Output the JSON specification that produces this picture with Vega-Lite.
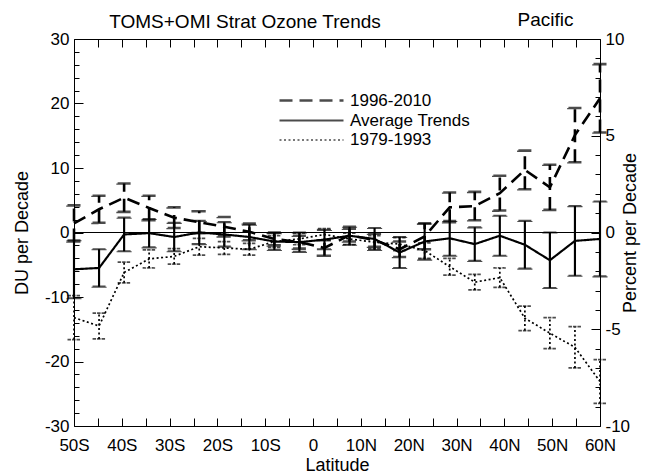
{
  "$schema": "https://vega.github.io/schema/vega-lite/v6.json",
  "width": 526,
  "height": 387,
  "autosize": {"type": "none"},
  "padding": {"left": 74, "top": 39, "right": 50, "bottom": 49},
  "background": "white",
  "config": {
    "font": "Liberation Sans",
    "view": {"stroke": null},
    "axis": {
      "domainColor": "black", "domainWidth": 1, "tickColor": "black", "tickWidth": 1,
      "labelColor": "black", "titleColor": "black", "labelFontSize": 17, "titleFontSize": 18,
      "titleFontWeight": "normal", "grid": false, "labelFont": "Liberation Sans", "titleFont": "Liberation Sans",
      "labelOverlap": false
    },
    "legend": {"symbolStrokeColor": "black", "labelColor": "black", "labelFontSize": 17, "labelFont": "Liberation Sans", "padding": 0}
  },
  "title": {"text": "TOMS+OMI Strat Ozone Trends", "anchor": "middle", "frame": "group", "dx": -92, "offset": -21, "dy": 16, "baseline": "alphabetic", "fontSize": 19, "fontWeight": "normal", "color": "black", "font": "Liberation Sans"},
  "datasets": {
    "trend": [
      {"lat": -50, "s": "1996-2010", "v": 1.4, "lo": -1.4, "hi": 4.2},
      {"lat": -44.76, "s": "1996-2010", "v": 3.6, "lo": 1.5, "hi": 5.7},
      {"lat": -39.52, "s": "1996-2010", "v": 5.4, "lo": 3.2, "hi": 7.6},
      {"lat": -34.29, "s": "1996-2010", "v": 3.8, "lo": 1.9, "hi": 5.7},
      {"lat": -29.05, "s": "1996-2010", "v": 2.3, "lo": 0.7, "hi": 3.9},
      {"lat": -23.81, "s": "1996-2010", "v": 1.6, "lo": -0.1, "hi": 3.3},
      {"lat": -18.57, "s": "1996-2010", "v": 0.9, "lo": -0.6, "hi": 2.4},
      {"lat": -13.33, "s": "1996-2010", "v": 0.1, "lo": -1.2, "hi": 1.4},
      {"lat": -8.1, "s": "1996-2010", "v": -1.0, "lo": -2.0, "hi": 0.0},
      {"lat": -2.86, "s": "1996-2010", "v": -1.5, "lo": -2.5, "hi": -0.5},
      {"lat": 2.38, "s": "1996-2010", "v": -2.4, "lo": -3.6, "hi": -1.2},
      {"lat": 7.62, "s": "1996-2010", "v": -0.4, "lo": -1.4, "hi": 0.6},
      {"lat": 12.86, "s": "1996-2010", "v": -1.2, "lo": -2.2, "hi": -0.2},
      {"lat": 18.1, "s": "1996-2010", "v": -2.6, "lo": -3.8, "hi": -1.4},
      {"lat": 23.33, "s": "1996-2010", "v": -0.6, "lo": -2.6, "hi": 1.4},
      {"lat": 28.57, "s": "1996-2010", "v": 3.9, "lo": 1.6, "hi": 6.2},
      {"lat": 33.81, "s": "1996-2010", "v": 4.1, "lo": 1.9, "hi": 6.3},
      {"lat": 39.05, "s": "1996-2010", "v": 6.1, "lo": 3.4, "hi": 8.8},
      {"lat": 44.29, "s": "1996-2010", "v": 9.7, "lo": 6.7, "hi": 12.7},
      {"lat": 49.52, "s": "1996-2010", "v": 7.0, "lo": 3.5, "hi": 10.5},
      {"lat": 54.76, "s": "1996-2010", "v": 15.1, "lo": 10.9, "hi": 19.3},
      {"lat": 60, "s": "1996-2010", "v": 20.8, "lo": 15.5, "hi": 26.1},
      {"lat": -50, "s": "Average Trends", "v": -5.7, "lo": -10.2, "hi": -1.2},
      {"lat": -44.76, "s": "Average Trends", "v": -5.5, "lo": -8.4, "hi": -2.6},
      {"lat": -39.52, "s": "Average Trends", "v": -0.3, "lo": -2.9, "hi": 2.3},
      {"lat": -34.29, "s": "Average Trends", "v": -0.1, "lo": -2.3, "hi": 2.1},
      {"lat": -29.05, "s": "Average Trends", "v": -0.7, "lo": -2.9, "hi": 1.5},
      {"lat": -23.81, "s": "Average Trends", "v": 0.0, "lo": -1.8, "hi": 1.8},
      {"lat": -18.57, "s": "Average Trends", "v": -0.3, "lo": -2.2, "hi": 1.6},
      {"lat": -13.33, "s": "Average Trends", "v": -0.7, "lo": -2.6, "hi": 1.2},
      {"lat": -8.1, "s": "Average Trends", "v": -1.4, "lo": -2.7, "hi": -0.1},
      {"lat": -2.86, "s": "Average Trends", "v": -1.5, "lo": -3.0, "hi": 0.0},
      {"lat": 2.38, "s": "Average Trends", "v": -1.1, "lo": -2.6, "hi": 0.4},
      {"lat": 7.62, "s": "Average Trends", "v": -0.5, "lo": -1.9, "hi": 0.9},
      {"lat": 12.86, "s": "Average Trends", "v": -1.0, "lo": -2.7, "hi": 0.7},
      {"lat": 18.1, "s": "Average Trends", "v": -3.1, "lo": -5.5, "hi": -0.7},
      {"lat": 23.33, "s": "Average Trends", "v": -1.4, "lo": -4.2, "hi": 1.4},
      {"lat": 28.57, "s": "Average Trends", "v": -0.9, "lo": -3.6, "hi": 1.8},
      {"lat": 33.81, "s": "Average Trends", "v": -1.8, "lo": -4.4, "hi": 0.8},
      {"lat": 39.05, "s": "Average Trends", "v": -0.5, "lo": -3.6, "hi": 2.6},
      {"lat": 44.29, "s": "Average Trends", "v": -1.9, "lo": -5.6, "hi": 1.8},
      {"lat": 49.52, "s": "Average Trends", "v": -4.3, "lo": -8.6, "hi": 0.0},
      {"lat": 54.76, "s": "Average Trends", "v": -1.3, "lo": -6.7, "hi": 4.1},
      {"lat": 60, "s": "Average Trends", "v": -1.0, "lo": -6.8, "hi": 4.8},
      {"lat": -50, "s": "1979-1993", "v": -13.2, "lo": -16.6, "hi": -9.8},
      {"lat": -44.76, "s": "1979-1993", "v": -14.5, "lo": -16.5, "hi": -12.5},
      {"lat": -39.52, "s": "1979-1993", "v": -6.2, "lo": -7.8, "hi": -4.6},
      {"lat": -34.29, "s": "1979-1993", "v": -4.1, "lo": -5.5, "hi": -2.7},
      {"lat": -29.05, "s": "1979-1993", "v": -3.7, "lo": -4.9, "hi": -2.5},
      {"lat": -23.81, "s": "1979-1993", "v": -2.2, "lo": -3.5, "hi": -0.9},
      {"lat": -18.57, "s": "1979-1993", "v": -2.4, "lo": -3.4, "hi": -1.4},
      {"lat": -13.33, "s": "1979-1993", "v": -2.6, "lo": -3.5, "hi": -1.7},
      {"lat": -8.1, "s": "1979-1993", "v": -1.4, "lo": -2.3, "hi": -0.5},
      {"lat": -2.86, "s": "1979-1993", "v": -1.0, "lo": -1.9, "hi": -0.1},
      {"lat": 2.38, "s": "1979-1993", "v": -0.3, "lo": -1.2, "hi": 0.6},
      {"lat": 7.62, "s": "1979-1993", "v": -1.0, "lo": -1.9, "hi": -0.1},
      {"lat": 12.86, "s": "1979-1993", "v": -1.5, "lo": -2.5, "hi": -0.5},
      {"lat": 18.1, "s": "1979-1993", "v": -1.8, "lo": -2.8, "hi": -0.8},
      {"lat": 23.33, "s": "1979-1993", "v": -2.8, "lo": -4.0, "hi": -1.6},
      {"lat": 28.57, "s": "1979-1993", "v": -5.3, "lo": -6.6, "hi": -4.0},
      {"lat": 33.81, "s": "1979-1993", "v": -7.7, "lo": -8.9, "hi": -6.5},
      {"lat": 39.05, "s": "1979-1993", "v": -7.0, "lo": -8.5, "hi": -5.5},
      {"lat": 44.29, "s": "1979-1993", "v": -13.3, "lo": -15.2, "hi": -11.4},
      {"lat": 49.52, "s": "1979-1993", "v": -15.6, "lo": -18.0, "hi": -13.2},
      {"lat": 54.76, "s": "1979-1993", "v": -17.8, "lo": -21.0, "hi": -14.6},
      {"lat": 60, "s": "1979-1993", "v": -23.1, "lo": -26.5, "hi": -19.7}
    ],
    "frame": [{"lat": -50, "pct": -10}, {"lat": 60, "pct": 10}],
    "minor": [{"du": -30}, {"du": 30}]
  },
  "layer": [
    {
      "data": {"name": "trend"},
      "encoding": {
        "x": {
          "field": "lat", "type": "quantitative",
          "scale": {"domain": [-50, 60], "nice": false, "zero": false},
          "axis": {
            "orient": "bottom", "title": "Latitude", "titlePadding": 3,
            "values": [-50, -45, -40, -35, -30, -25, -20, -15, -10, -5, 0, 5, 10, 15, 20, 25, 30, 35, 40, 45, 50, 55, 60],
            "labelExpr": "datum.value % 10 !== 0 ? '' : (datum.value === 0 ? '0' : (datum.value < 0 ? (-datum.value) + 'S' : datum.value + 'N'))",
            "tickSize": -8, "labelPadding": 19, "labelFlush": false, "labelOverlap": false
          }
        }
      },
      "layer": [
        {
          "mark": {"type": "line", "color": "black", "clip": false},
          "encoding": {
            "y": {
              "field": "v", "type": "quantitative",
              "scale": {"domain": [-30, 30], "nice": false},
              "axis": {
                "orient": "left", "title": "DU per Decade", "titlePadding": 13,
                "values": [-30, -20, -10, 0, 10, 20, 30],
                "labelExpr": "datum.value < 0 ? '-' + abs(datum.value) : '' + datum.value",
                "tickSize": -9, "labelPadding": 14, "labelFlush": false, "labelOverlap": false
              }
            },
            "strokeDash": {
              "field": "s", "type": "nominal",
              "scale": {"domain": ["1996-2010", "Average Trends", "1979-1993"], "range": [[13, 7], [1, 0], [2, 2.5]]},
              "legend": {"title": null, "orient": "none", "legendX": 228, "legendY": 52, "symbolType": "M-4,0H4", "symbolSize": 256, "labelOffset": 29, "rowPadding": 2, "symbolStrokeColor": "black"}
            },
            "strokeWidth": {
              "field": "s", "type": "nominal",
              "scale": {"domain": ["1996-2010", "Average Trends", "1979-1993"], "range": [2.6, 1.7, 2.2]},
              "legend": {"title": null, "orient": "none", "legendX": 228, "legendY": 52, "symbolType": "M-4,0H4", "symbolSize": 256, "labelOffset": 29, "rowPadding": 2, "symbolStrokeColor": "black"}
            }
          }
        },
        {
          "mark": {"type": "rule", "color": "black", "clip": false},
          "encoding": {
            "y": {"field": "lo", "type": "quantitative"},
            "y2": {"field": "hi"},
            "strokeDash": {"field": "s", "type": "nominal"},
            "strokeWidth": {"field": "s", "type": "nominal"}
          }
        },
        {
          "mark": {"type": "tick", "orient": "horizontal", "filled": false, "color": "black", "size": 13, "thickness": 0.01, "clip": false},
          "encoding": {
            "y": {"field": "lo", "type": "quantitative"},
            "strokeDash": {"field": "s", "type": "nominal"},
            "strokeWidth": {"field": "s", "type": "nominal"}
          }
        },
        {
          "mark": {"type": "tick", "orient": "horizontal", "filled": false, "color": "black", "size": 13, "thickness": 0.01, "clip": false},
          "encoding": {
            "y": {"field": "hi", "type": "quantitative"},
            "strokeDash": {"field": "s", "type": "nominal"},
            "strokeWidth": {"field": "s", "type": "nominal"}
          }
        },
        {
          "data": {"values": [{}]},
          "mark": {"type": "rule", "color": "black", "strokeWidth": 1},
          "encoding": {"x": null, "y": {"datum": 0, "type": "quantitative"}}
        }
      ]
    },
    {
      "data": {"name": "frame"},
      "mark": {"type": "point", "opacity": 0},
      "encoding": {
        "x": {
          "field": "lat", "type": "quantitative",
          "scale": {"domain": [-50, 60], "nice": false, "zero": false},
          "axis": {
            "orient": "top", "labels": false, "title": "Pacific", "titleFontSize": 19,
            "titleX": 471, "titleY": -14, "titleAlign": "center", "titleBaseline": "alphabetic",
            "values": [-50, -45, -40, -35, -30, -25, -20, -15, -10, -5, 0, 5, 10, 15, 20, 25, 30, 35, 40, 45, 50, 55, 60],
            "tickSize": -8
          }
        },
        "y": {
          "field": "pct", "type": "quantitative",
          "scale": {"domain": [-10, 10], "nice": false, "zero": false},
          "axis": {
            "orient": "right", "title": "Percent per Decade", "titleAngle": -90, "titlePadding": 10,
            "values": [-10, -9, -8, -7, -6, -5, -4, -3, -2, -1, 0, 1, 2, 3, 4, 5, 6, 7, 8, 9, 10],
            "labelExpr": "datum.value % 5 !== 0 ? '' : (datum.value < 0 ? '-' + abs(datum.value) : '' + datum.value)",
            "tickSize": {"condition": {"test": "datum.value % 5 === 0", "value": -9}, "value": -5},
            "labelPadding": 14, "labelFlush": false, "labelOverlap": false
          }
        }
      }
    },
    {
      "data": {"name": "minor"},
      "mark": {"type": "point", "opacity": 0},
      "encoding": {
        "y": {
          "field": "du", "type": "quantitative",
          "scale": {"domain": [-30, 30], "nice": false, "zero": false},
          "axis": {
            "orient": "left", "title": null, "labels": false, "domain": false,
            "values": [-28, -26, -24, -22, -18, -16, -14, -12, -8, -6, -4, -2, 2, 4, 6, 8, 12, 14, 16, 18, 22, 24, 26, 28],
            "tickSize": -5, "offset": 0
          }
        }
      }
    }
  ],
  "resolve": {"scale": {"x": "independent", "y": "independent"}}
}
